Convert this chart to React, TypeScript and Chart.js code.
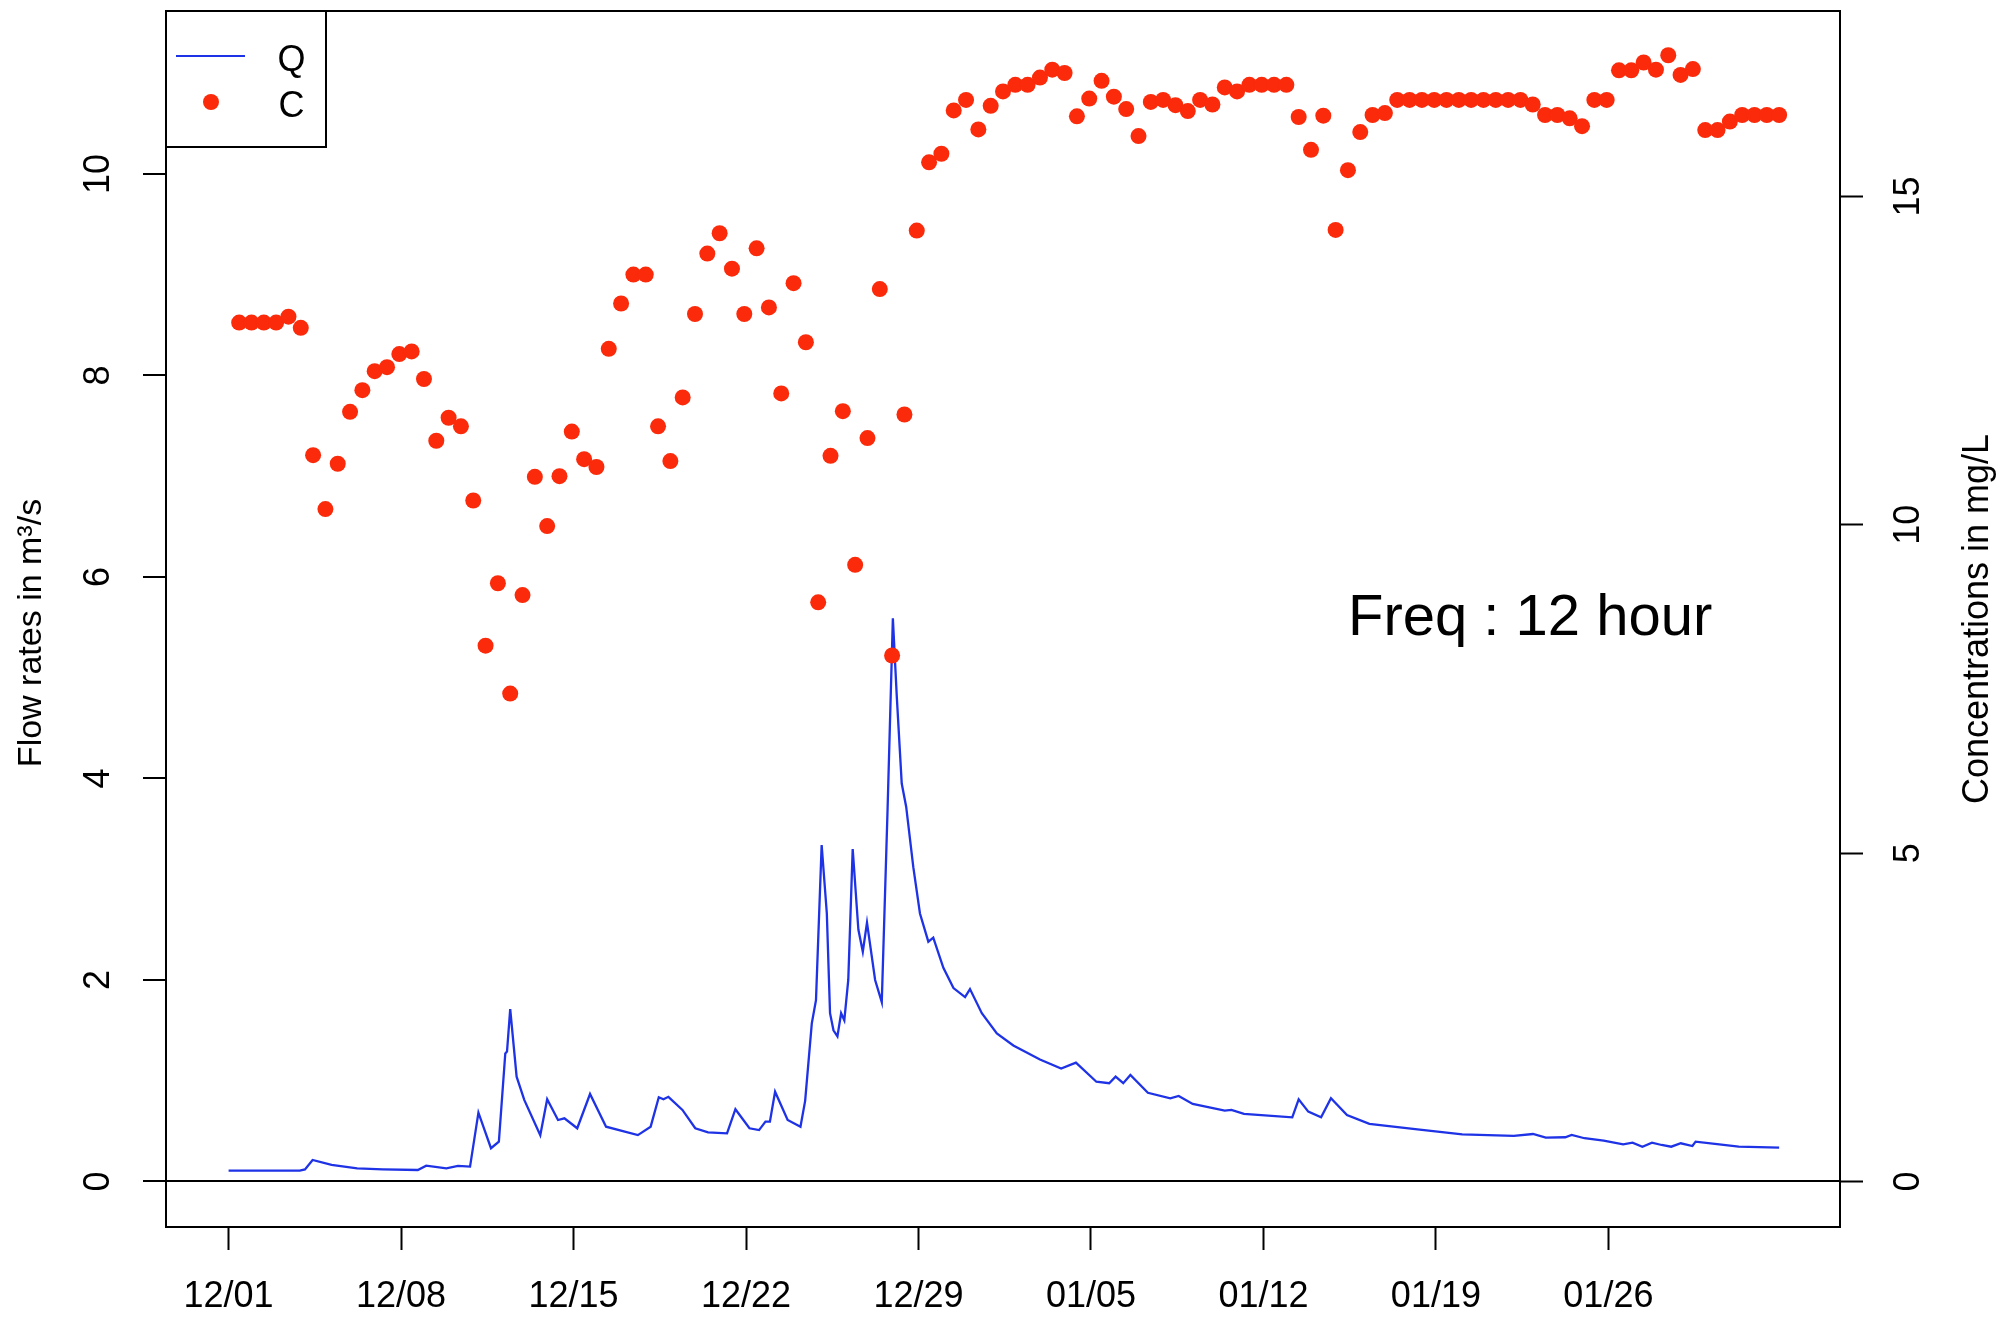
import React, { useEffect, useRef } from 'react';
import { Chart, registerables } from 'chart.js';

Chart.register(...registerables);

const FONT = '"Liberation Sans", Arial, Helvetica, sans-serif';

// x axis: days since 12/01
const xTickDays = [0, 7, 14, 21, 28, 35, 42, 49, 56];
const xTickLabels = ['12/01', '12/08', '12/15', '12/22', '12/29', '01/05', '01/12', '01/19', '01/26'];
const qTicks = [0, 2, 4, 6, 8, 10];
const cTicks = [0, 5, 10, 15];

// Q : flow rate (m3/s)
const qDays = [
  0, 2.89, 3.10, 3.41, 4.18, 5.22, 6.26, 7.68, 8.02, 8.84,
  9.31, 9.80, 10.14, 10.65, 10.97, 11.23, 11.30, 11.43, 11.69, 12.0,
  12.65, 12.93, 13.37, 13.63, 14.15, 14.67, 15.32, 16.61, 17.13, 17.46,
  17.65, 17.85, 18.42, 18.94, 19.46, 20.23, 20.57, 21.14, 21.53, 21.79,
  21.97, 22.18, 22.69, 23.21, 23.40, 23.67, 23.84, 24.07, 24.28, 24.41,
  24.55, 24.71, 24.86, 24.99, 25.15, 25.33, 25.56, 25.74, 25.91, 26.24,
  26.51, 26.74, 26.96, 27.12, 27.32, 27.50, 27.79, 28.06, 28.40, 28.60,
  29.01, 29.42, 29.89, 30.09, 30.57, 31.18, 31.85, 32.93, 33.79, 34.39,
  35.22, 35.74, 36.00, 36.31, 36.60, 37.31, 38.22, 38.56, 39.13, 40.43,
  40.70, 41.21, 43.17, 43.43, 43.82, 44.34, 44.74, 45.39, 46.30, 48.25,
  50.07, 52.16, 52.94, 53.46, 54.25, 54.51, 55.03, 55.81, 56.60, 56.98,
  57.38, 57.77, 58.16, 58.55, 58.94, 59.41, 59.54, 60.50, 61.29, 62.93,
];
const qValues = [
  0.107, 0.107, 0.12, 0.213, 0.164, 0.13, 0.12, 0.114, 0.157, 0.13,
  0.154, 0.147, 0.683, 0.33, 0.395, 1.27, 1.29, 1.71, 1.04, 0.81,
  0.46, 0.816, 0.61, 0.627, 0.528, 0.868, 0.544, 0.46, 0.544, 0.836,
  0.816, 0.84, 0.71, 0.528, 0.488, 0.478, 0.717, 0.528, 0.51, 0.594,
  0.594, 0.891, 0.61, 0.544, 0.80, 1.57, 1.80, 3.34, 2.66, 1.67,
  1.50, 1.44, 1.67, 1.60, 2.0, 3.30, 2.50, 2.28, 2.57, 2.0,
  1.78, 3.65, 5.59, 4.81, 3.95, 3.72, 3.12, 2.66, 2.38, 2.42,
  2.12, 1.92, 1.83, 1.91, 1.67, 1.47, 1.35, 1.21, 1.12, 1.18,
  0.99, 0.975, 1.04, 0.975, 1.057, 0.88, 0.826, 0.849, 0.77, 0.703,
  0.71, 0.67, 0.637, 0.816, 0.693, 0.637, 0.826, 0.66, 0.571, 0.518,
  0.468, 0.452, 0.471, 0.435, 0.439, 0.462, 0.429, 0.405, 0.369, 0.385,
  0.345, 0.385, 0.362, 0.345, 0.379, 0.352, 0.395, 0.369, 0.345, 0.335,
];

// C : concentration (mg/L), one sample every 12 hours
const cFirstDay = 0.43;
const cStepDays = 0.5;
const cValues = [
  13.08, 13.08, 13.08, 13.08, 13.17, 13.00,
  11.06, 10.24, 10.93, 11.72, 12.05, 12.34, 12.40, 12.60, 12.64, 12.22,
  11.28, 11.63, 11.50, 10.37, 8.16, 9.11, 7.43, 8.93, 10.73, 9.98,
  10.74, 11.42, 11.00, 10.88, 12.68, 13.37,
  13.81, 13.81, 11.50, 10.97, 11.94, 13.21, 14.13, 14.44, 13.90, 13.21,
  14.21, 13.31, 12.00, 13.68, 12.78, 8.82, 11.05, 11.73, 9.39, 11.32,
  13.59, 8.01, 11.68, 14.48,
  15.52, 15.65, 16.31, 16.47, 16.02, 16.38, 16.60, 16.70, 16.70, 16.81,
  16.93, 16.88, 16.22, 16.49, 16.76, 16.52, 16.33, 15.92, 16.44, 16.47,
  16.39, 16.30, 16.47, 16.40, 16.66, 16.60, 16.70, 16.70, 16.70, 16.70,
  16.21, 15.71, 16.23, 14.49, 15.40,
  15.98, 16.24, 16.27, 16.47,
  16.47, 16.47, 16.47, 16.47, 16.47, 16.47, 16.47, 16.47, 16.47, 16.47,
  16.40, 16.24, 16.24, 16.19, 16.07, 16.47, 16.47, 16.92, 16.92, 17.04,
  16.93, 17.15, 16.85, 16.94, 16.01, 16.01, 16.14, 16.24, 16.24, 16.24,
  16.24,
];

const X_MIN = -2.54;
const X_MAX = 65.4;
const Q_MIN = -0.452;
const Q_MAX = 11.618;
const C_MIN = -0.693;
const C_MAX = 17.824;

const BLUE = '#1e32e6';
const RED = '#fa2a0a';

const decorPlugin = {
  id: 'decor',
  afterDraw(chart: any) {
    const { ctx, chartArea: a } = chart;
    const midY = (a.top + a.bottom) / 2;
    ctx.save();
    // plot box
    ctx.strokeStyle = '#000';
    ctx.lineWidth = 2;
    ctx.strokeRect(a.left, a.top, a.right - a.left, a.bottom - a.top);

    // legend
    const lx = a.left;
    const ly = a.top;
    ctx.fillStyle = '#fff';
    ctx.fillRect(lx, ly, 160, 136);
    ctx.strokeRect(lx, ly, 160, 136);
    ctx.strokeStyle = BLUE;
    ctx.lineWidth = 2.2;
    ctx.beginPath();
    ctx.moveTo(lx + 10, ly + 45);
    ctx.lineTo(lx + 79, ly + 45);
    ctx.stroke();
    ctx.fillStyle = RED;
    ctx.beginPath();
    ctx.arc(lx + 45, ly + 91, 8, 0, Math.PI * 2);
    ctx.fill();
    ctx.fillStyle = '#000';
    ctx.font = `36px ${FONT}`;
    ctx.textAlign = 'left';
    ctx.textBaseline = 'alphabetic';
    ctx.fillText('Q', lx + 111.5, ly + 60);
    ctx.fillText('C', lx + 112.5, ly + 106);

    // axis titles
    ctx.textAlign = 'center';
    ctx.textBaseline = 'middle';
    ctx.save();
    ctx.font = `34px ${FONT}`;
    ctx.translate(32, midY + 14);
    ctx.rotate(-Math.PI / 2);
    ctx.fillText('Flow rates in m³/s', 0, 0);
    ctx.restore();
    ctx.save();
    ctx.font = `36px ${FONT}`;
    ctx.translate(chart.width - 29, midY);
    ctx.rotate(-Math.PI / 2);
    ctx.fillText('Concentrations in mg/L', 0, 0);
    ctx.restore();

    // annotation
    ctx.font = `58px ${FONT}`;
    ctx.textAlign = 'left';
    ctx.textBaseline = 'alphabetic';
    ctx.fillText('Freq : 12 hour', a.left + 1182, a.top + 624);
    ctx.restore();
  },
};

export default function App() {
  const ref = useRef<HTMLCanvasElement | null>(null);

  useEffect(() => {
    if (!ref.current) return;
    const qData = qDays.map((d, i) => ({ x: d, y: qValues[i] }));
    const cData = cValues.map((v, i) => ({ x: cFirstDay + i * cStepDays, y: v }));

    const tickFont = { family: FONT, size: 36 };
    const noPad = (s: any) => {
      s.paddingTop = 0;
      s.paddingBottom = 0;
      s.paddingLeft = 0;
      s.paddingRight = 0;
    };

    const chart = new Chart(ref.current, {
      type: 'scatter',
      data: {
        datasets: [
          {
            type: 'scatter',
            label: 'C',
            data: cData,
            yAxisID: 'yC',
            xAxisID: 'x',
            backgroundColor: RED,
            borderColor: RED,
            pointRadius: 8,
            pointBorderWidth: 0,
            order: 0,
          } as any,
          {
            type: 'line',
            label: 'Q',
            data: qData,
            yAxisID: 'yQ',
            xAxisID: 'x',
            borderColor: BLUE,
            backgroundColor: BLUE,
            borderWidth: 2.3,
            pointRadius: 0,
            tension: 0,
            fill: false,
            order: 1,
          } as any,
        ],
      },
      options: {
        animation: false,
        responsive: false,
        maintainAspectRatio: false,
        devicePixelRatio: 1,
        events: [],
        layout: { padding: { top: 11, left: 0, right: 0, bottom: 0 }, autoPadding: false },
        plugins: {
          legend: { display: false },
          tooltip: { enabled: false },
          title: { display: false },
        },
        scales: {
          x: {
            type: 'linear',
            position: 'bottom',
            min: X_MIN,
            max: X_MAX,
            afterBuildTicks: (s: any) => {
              s.ticks = xTickDays.map((v) => ({ value: v }));
            },
            ticks: {
              autoSkip: false,
              minRotation: 0,
              maxRotation: 0,
              padding: 25,
              color: '#000',
              font: tickFont,
              callback: (v: any) => {
                const i = xTickDays.indexOf(Number(v));
                return i >= 0 ? xTickLabels[i] : '';
              },
            },
            grid: {
              drawOnChartArea: false,
              drawTicks: true,
              tickLength: 23,
              tickColor: '#000',
              tickWidth: 2,
              color: '#000',
            },
            border: { display: true, color: '#000', width: 2 },
            afterFit: (s: any) => {
              s.height = 92;
              noPad(s);
            },
          },
          yQ: {
            type: 'linear',
            position: 'left',
            min: Q_MIN,
            max: Q_MAX,
            afterBuildTicks: (s: any) => {
              s.ticks = qTicks.map((v) => ({ value: v }));
            },
            ticks: {
              minRotation: 90,
              maxRotation: 90,
              crossAlign: 'center',
              padding: 24,
              color: '#000',
              font: tickFont,
              callback: (v: any) => String(v),
            },
            grid: {
              drawOnChartArea: true,
              drawTicks: true,
              tickLength: 23,
              tickColor: '#000',
              tickWidth: 2,
              lineWidth: 2,
              color: (c: any) => (c.tick && c.tick.value === 0 ? '#000' : 'rgba(0,0,0,0)'),
            },
            border: { display: true, color: '#000', width: 2 },
            afterFit: (s: any) => {
              s.width = 166;
              noPad(s);
            },
          },
          yC: {
            type: 'linear',
            position: 'right',
            min: C_MIN,
            max: C_MAX,
            afterBuildTicks: (s: any) => {
              s.ticks = cTicks.map((v) => ({ value: v }));
            },
            ticks: {
              minRotation: 90,
              maxRotation: 90,
              crossAlign: 'center',
              padding: 26,
              color: '#000',
              font: tickFont,
              callback: (v: any) => String(v),
            },
            grid: {
              drawOnChartArea: false,
              drawTicks: true,
              tickLength: 23,
              tickColor: '#000',
              tickWidth: 2,
              color: '#000',
            },
            border: { display: true, color: '#000', width: 2 },
            afterFit: (s: any) => {
              s.width = 167;
              noPad(s);
            },
          },
        },
      } as any,
      plugins: [decorPlugin],
    });

    return () => chart.destroy();
  }, []);

  return (
    <div style={{ position: 'absolute', left: 0, top: 0, width: 2007, height: 1319, background: '#fff' }}>
      <canvas ref={ref} width={2007} height={1319} style={{ display: 'block', width: 2007, height: 1319 }} />
    </div>
  );
}
